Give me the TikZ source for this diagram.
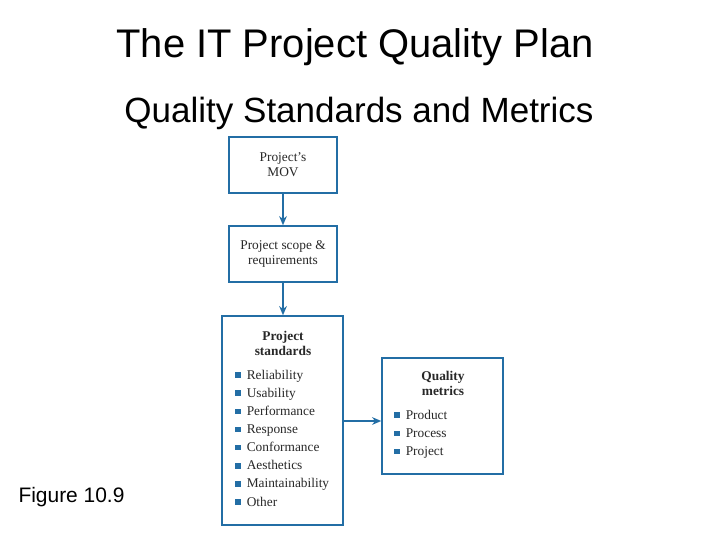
\documentclass[tikz,border=0pt]{standalone}
\usepackage{fontspec}
\setmainfont{Liberation Serif}
\newfontfamily\arialf{Liberation Sans}
\usetikzlibrary{arrows.meta}
\definecolor{boxblue}{RGB}{35,110,165}
\definecolor{boxtext}{RGB}{40,40,40}
\tikzset{
  pbox/.style={draw=boxblue, line width=1.1pt, fill=white, inner sep=0pt, text=boxtext},
  btxt/.style={font=\fontsize{9.5pt}{10.8pt}\selectfont, align=center, inner sep=0pt},
  htxt/.style={font=\fontsize{9.5pt}{10.8pt}\selectfont\bfseries, align=center, inner sep=0pt, text=boxtext},
  itxt/.style={font=\fontsize{9.5pt}{10.8pt}\selectfont, anchor=west, inner sep=0pt, text height=1.45ex, text depth=.2ex, text=boxtext},
  bul/.style={fill=boxblue, minimum size=0.14cm, inner sep=0pt},
  arr/.style={draw=boxblue, line width=1pt, -{Stealth[length=6.5pt,width=5.5pt]}},
}
\begin{document}
\begin{tikzpicture}[x=0.025cm,y=-0.025cm]
\useasboundingbox (0,0) rectangle (720,540);
% titles
\node[font=\arialf\fontsize{28.4pt}{32pt}\selectfont, inner sep=0pt] (title) at (355,47.5) {The IT Project Quality Plan};
\node[font=\arialf\fontsize{24.9pt}{28pt}\selectfont, inner sep=0pt] (subtitle) at (359,113) {Quality Standards and Metrics};
\node[font=\arialf\fontsize{14.9pt}{17pt}\selectfont, inner sep=0pt] (fig) at (71.5,497.5) {Figure 10.9};
% boxes
\node[pbox, btxt, minimum width=2.7cm, minimum height=1.4cm] (mov) at (283,165) {Project's\\MOV};
\node[pbox, btxt, minimum width=2.7cm, minimum height=1.4cm] (scope) at (283,254) {Project scope \&\\requirements};
\node[pbox, minimum width=3.025cm, minimum height=5.225cm] (std) at (282.5,420.5) {};
\node[pbox, minimum width=3.025cm, minimum height=2.9cm] (met) at (442.5,416) {};
% headings
\node[htxt] (stdh) at (283,343.5) {Project\\standards};
\node[htxt] (meth) at (443,383.5) {Quality\\metrics};
% standards list
\foreach \t [count=\i] in {Reliability,Usability,Performance,Response,Conformance,Aesthetics,Maintainability,Other}{
  \node[bul] (sb\i) at (238,{375+18.15*(\i-1)}) {};
  \node[itxt] (st\i) at (246.5,{375+18.15*(\i-1)}) {\t};
}
% metrics list
\foreach \t [count=\i] in {Product,Process,Project}{
  \node[bul] (mb\i) at (397,{415+18.3*(\i-1)}) {};
  \node[itxt] (mt\i) at (405.5,{415+18.3*(\i-1)}) {\t};
}
% arrows
\draw[arr] (mov.south) -- (scope.north);
\coordinate (a0) at (scope.south |- std.north);
\draw[arr] (scope.south) -- (a0);
\coordinate (a1) at (std.east |- 0,421);
\coordinate (a2) at (met.west |- 0,421);
\draw[arr] (a1) -- (a2);
\end{tikzpicture}
\end{document}
